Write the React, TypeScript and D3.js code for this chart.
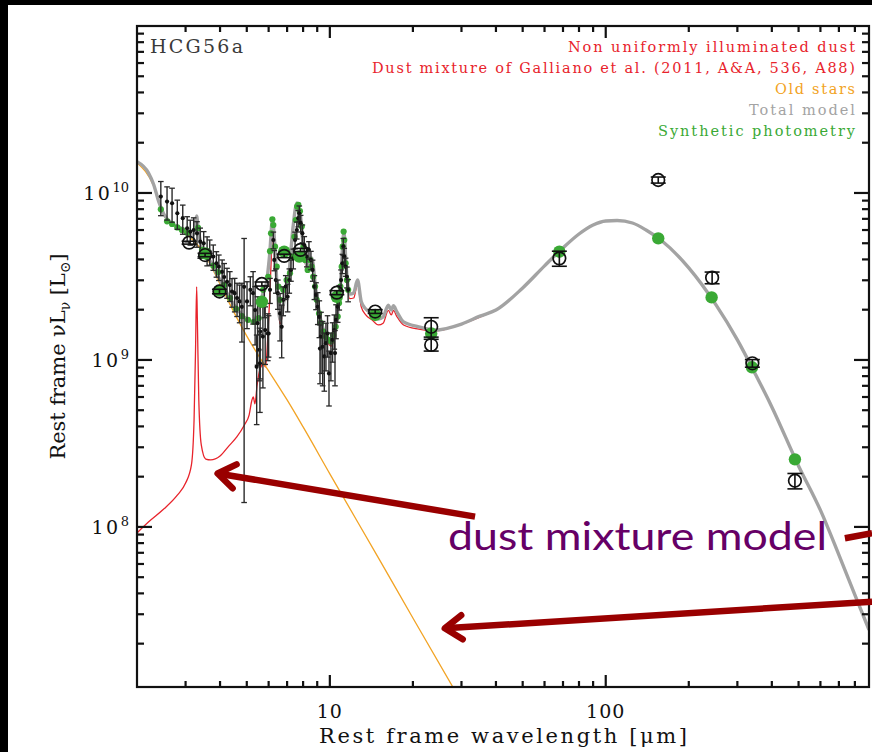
import React, { useEffect, useRef } from 'react';
import * as d3 from 'd3';

// ---------- data (luminosities in units of 1e9 Lsun, wavelengths in micron) ----------
const modelWave = [2.0, 2.2, 2.3, 2.4, 2.5, 2.7, 3.0, 3.2, 3.25, 3.29, 3.33, 3.4, 3.7, 4.0, 4.5, 5.0, 5.3, 5.5, 5.7, 5.9, 6.05, 6.2, 6.3, 6.45, 6.6, 6.9, 7.1, 7.35, 7.6, 7.8, 8.0, 8.3, 8.6, 8.9, 9.3, 9.7, 10.1, 10.4, 10.7, 10.95, 11.1, 11.25, 11.45, 11.8, 12.2, 12.6, 13.0, 13.5, 14.2, 15.0, 15.6, 16.3, 16.7, 17.0, 17.5, 18.5, 21, 24, 30, 35, 40, 50, 60, 70, 80, 90, 100, 110, 125, 140, 160, 200, 250, 300, 350, 400, 500, 600, 700, 800, 900];
const modelLum = [15.4, 13.2, 11.2, 8.83, 7.49, 6.52, 6.0, 5.6, 6.43, 7.28, 6.17, 5.09, 3.86, 3.01, 2.13, 1.76, 1.69, 1.99, 2.45, 2.93, 4.25, 6.99, 5.23, 2.63, 1.74, 2.55, 3.23, 6.17, 8.71, 7.69, 4.88, 3.66, 4.08, 2.63, 1.69, 1.39, 1.26, 1.45, 1.99, 2.93, 4.56, 5.84, 3.71, 2.48, 2.52, 3.01, 2.23, 2.02, 1.91, 1.76, 1.81, 2.13, 1.99, 2.11, 1.94, 1.69, 1.58, 1.51, 1.64, 1.83, 1.99, 2.70, 3.66, 4.69, 5.68, 6.43, 6.80, 6.84, 6.61, 6.00, 5.16, 3.56, 2.16, 1.32, 0.813, 0.523, 0.232, 0.126, 0.068, 0.0392, 0.0242];

const dustWave = [2.0, 2.2, 2.5, 2.8, 3.0, 3.15, 3.22, 3.26, 3.29, 3.31, 3.35, 3.42, 3.55, 3.7, 4.0, 4.3, 4.6, 4.9, 5.1, 5.22, 5.28, 5.35, 5.45, 5.6, 5.75, 5.85, 5.95, 6.05, 6.15, 6.2, 6.3, 6.45, 6.6, 6.9, 7.1, 7.35, 7.6, 7.8, 8.0, 8.3, 8.6, 8.9, 9.3, 9.7, 10.1, 10.4, 10.7, 10.95, 11.1, 11.25, 11.45, 11.8, 12.2, 12.6, 13.0, 13.5, 14.2, 15.0, 15.6, 16.3, 16.7, 17.0, 17.5, 18.5, 21, 24, 30, 40];
const dustLum = [0.092, 0.107, 0.128, 0.155, 0.183, 0.235, 0.437, 1.15, 2.74, 1.74, 0.576, 0.31, 0.255, 0.252, 0.266, 0.305, 0.346, 0.408, 0.469, 0.576, 0.60, 0.545, 0.708, 0.896, 0.946, 0.908, 1.32, 2.29, 4.56, 6.71, 4.95, 2.48, 1.64, 2.42, 3.10, 6.00, 8.48, 7.49, 4.69, 3.46, 3.92, 2.48, 1.60, 1.32, 1.21, 1.37, 1.89, 2.81, 4.37, 5.68, 3.56, 2.33, 2.35, 2.85, 2.08, 1.86, 1.74, 1.62, 1.66, 1.98, 1.86, 1.98, 1.82, 1.62, 1.53, 1.49, 1.64, 1.99];

const starWave = [2.0, 2.3, 2.5, 3.0, 3.5, 4.0, 4.5, 5.0, 5.5, 6.0, 7.0, 8.0, 10, 15, 20, 30];
const starLum = [15.2, 11.0, 7.4, 5.75, 4.35, 2.85, 1.92, 1.39, 1.07, 0.859, 0.576, 0.397, 0.208, 0.0652, 0.0285, 0.00895];

const specWave = [2.44, 2.57, 2.68, 2.80, 2.93, 3.04, 3.12, 3.21, 3.30, 3.39, 3.49, 3.59, 3.67, 3.78, 3.88, 3.96, 4.07, 4.14, 4.24, 4.34, 4.42, 4.52, 4.61, 4.71, 4.80, 4.89, 5.01, 5.15, 5.27, 5.36, 5.47, 5.59, 5.72, 5.83, 5.43, 5.56, 6.00,
  5.58, 5.79, 5.96, 6.07, 6.24, 6.29, 6.37, 6.48, 6.60, 6.69, 6.78, 6.92, 7.03, 7.13, 7.23, 7.37, 7.48, 7.59, 7.68, 7.75, 7.84, 7.95, 8.08, 8.25, 8.40, 8.54, 8.66, 8.79, 8.91, 9.04, 9.16, 9.21, 9.29, 9.42, 9.55, 9.68, 9.81, 9.93, 10.09, 10.23, 10.38, 10.44, 10.53, 10.68, 10.82, 10.98, 11.10, 11.19, 11.28, 11.41, 11.53, 11.65];
const specLum = [9.51, 8.88, 8.68, 7.56, 7.06, 6.15, 5.87, 6.00, 5.73, 5.11, 5.00, 4.56, 4.46, 4.16, 3.79, 3.62, 3.37, 3.14, 2.94, 2.81, 2.57, 2.51, 2.35, 2.24, 2.08, 2.74, 2.24, 2.63, 2.51, 1.99, 1.66, 1.48, 1.38, 1.51, 0.91, 1.15, 1.44,
  0.955, 2.29, 1.44, 2.63, 5.23, 3.97, 3.01, 2.51, 1.90, 1.58, 2.29, 2.75, 2.39, 3.01, 3.46, 4.06, 5.23, 6.00, 7.06, 7.56, 6.59, 5.73, 4.88, 4.16, 4.56, 3.97, 3.46, 2.75, 2.45, 2.08, 1.81, 1.17, 1.38, 1.20, 1.05, 1.26, 1.44, 0.83, 1.10, 1.32, 1.51, 1.10, 1.74, 2.08, 2.39, 3.01, 3.79, 4.79, 4.16, 3.62, 3.15, 2.63];
const specErr = [2.2, 2.0, 2.0, 1.5, 1.4, 1.06, 1.0, 1.1, 1.0, 1.05, 0.87, 0.9, 0.77, 0.72, 0.66, 0.63, 0.6, 0.64, 0.6, 0.57, 0.5, 0.57, 0.53, 0.57, 0.8, 2.6, 0.7, 0.52, 0.87, 0.76, 0.73, 0.71, 0.7, 0.57, 0.5, 0.4, 0.4,
  0.47, 0.5, 0.45, 0.45, 0.6, 0.55, 0.5, 0.5, 0.6, 0.55, 0.45, 0.45, 0.45, 0.5, 0.5, 0.55, 0.6, 0.7, 0.8, 0.8, 0.75, 0.7, 0.6, 0.55, 0.55, 0.5, 0.5, 0.45, 0.45, 0.45, 0.45, 0.45, 0.55, 0.5, 0.4, 0.4, 0.4, 0.3, 0.35, 0.35, 0.35, 0.4, 0.4, 0.4, 0.4, 0.45, 0.5, 0.55, 0.5, 0.45, 0.45, 0.4];

const synthWave = [2.44, 2.57, 2.68, 2.80, 2.91, 3.04, 3.33, 3.44, 3.59, 3.78, 3.94, 4.14, 4.35, 4.57, 4.80, 5.05, 5.31, 5.52, 5.73, 5.98, 6.07, 6.12, 6.19, 6.24, 6.33, 6.42, 6.51, 6.60, 6.78, 6.97, 7.17, 7.31, 7.44, 7.53, 7.61, 7.69, 7.79, 7.91, 8.02, 8.13, 8.31, 8.47, 8.59, 8.70, 8.84, 8.96, 9.14, 9.29, 9.47, 9.66, 9.87, 10.09, 10.29, 10.50, 10.68, 10.80, 10.92, 11.04, 11.13, 11.22, 11.28, 11.41, 11.53, 11.65];
const synthLum = [7.98, 6.76, 6.52, 6.22, 6.00, 5.77, 6.18, 4.56, 4.14, 3.67, 3.36, 2.81, 2.35, 2.02, 1.83, 1.74, 1.69, 1.78, 2.63, 3.15, 4.48, 5.73, 6.95, 6.43, 4.77, 3.62, 2.75, 2.29, 2.63, 3.01, 3.31, 4.16, 5.47, 6.89, 8.30, 8.48, 7.78, 6.29, 4.77, 3.97, 3.46, 3.97, 3.62, 3.15, 2.75, 2.29, 1.90, 1.66, 1.48, 1.38, 1.32, 1.29, 1.41, 1.58, 1.82, 2.19, 2.75, 3.62, 4.77, 5.87, 5.23, 3.79, 3.01, 2.63];

const bandSynthWave = [3.53, 3.98, 5.67, 6.83, 7.75, 10.6, 14.6, 23.3, 67.9, 155, 242, 339, 485];
const bandSynthLum = [4.35, 2.6, 2.23, 4.45, 4.16, 2.39, 1.86, 1.44, 4.45, 5.35, 2.37, 0.904, 0.254];

const photWave = [3.09, 3.53, 3.98, 5.67, 6.83, 7.83, 10.6, 14.6, 23.3, 23.3, 67.9, 155, 243, 340, 485];
const photLum = [5.04, 4.25, 2.57, 2.85, 4.2, 4.56, 2.53, 1.95, 1.58, 1.23, 4.06, 11.96, 3.11, 0.955, 0.189];
const photErr = [0.1, 0.1, 0.08, 0.08, 0.1, 0.1, 0.07, 0.05, 0.21, 0.1, 0.42, 0.5, 0.25, 0.05, 0.02];

const xMajorTicks = [10, 100];
const xMajorLabels = ['10', '100'];
const yMajorTicks = [0.1, 1, 10];
const yMajorExponents = ['8', '9', '10'];

const legendLabels = ['Non uniformly illuminated dust', 'Dust mixture of Galliano et al. (2011, A&A, 536, A88)', 'Old stars', 'Total model', 'Synthetic photometry'];
const legendColors = ['#e8232b', '#e8232b', '#f2a324', '#a3a3a3', '#3aa935'];
const legendWidths = [287, 483, 80, 106, 197];

const arrowTails: [number, number][] = [[33.6, 0.1153], [923, 0.0357]];
const arrowTips: [number, number][] = [[3.92, 0.209], [26.1, 0.0247]];
const arrowStub: [number, number][] = [[736, 0.0855], [923, 0.0917]];
const noteText = 'dust mixture model';
const noteAnchor: [number, number] = [26.8, 0.0728];

const SERIF = "'DejaVu Serif', serif";

export default function App() {
  const ref = useRef<SVGSVGElement>(null);
  useEffect(() => {
    const svg = d3.select(ref.current!);
    svg.selectAll('*').remove();
    const x = d3.scaleLog().domain([2, 900]).range([137, 869]);
    const y = d3.scaleLog().domain([0.011, 100]).range([687, 26]);
    const [xa, xb] = x.range();
    const [ya, yb] = y.range();

    svg.append('rect').attr('width', 872).attr('height', 752).attr('fill', '#fff');

    const defs = svg.append('defs');
    defs.append('clipPath').attr('id', 'plotclip').append('rect')
      .attr('x', xa).attr('y', yb).attr('width', xb - xa).attr('height', ya - yb);

    const pts = (w: number[], l: number[]) => w.map((v, i) => [v, l[i]] as [number, number]);
    const line = d3.line<[number, number]>().x(d => x(d[0])).y(d => y(d[1])).curve(d3.curveMonotoneX);

    const g = svg.append('g').attr('clip-path', 'url(#plotclip)');
    g.append('path').attr('d', line(pts(dustWave, dustLum))!).attr('fill', 'none')
      .attr('stroke', '#e8232b').attr('stroke-width', 1.3);
    g.append('path').attr('d', line(pts(starWave, starLum))!).attr('fill', 'none')
      .attr('stroke', '#f2a324').attr('stroke-width', 1.3);
    g.append('path').attr('d', line(pts(modelWave, modelLum))!).attr('fill', 'none')
      .attr('stroke', '#a3a3a3').attr('stroke-width', 3.4).attr('stroke-linejoin', 'round');

    // synthetic photometry on spectrum
    g.selectAll('circle.syn').data(pts(synthWave, synthLum)).enter().append('circle')
      .attr('cx', d => x(d[0])).attr('cy', d => y(d[1])).attr('r', 3.1).attr('fill', '#3aa935');

    // spectrum
    const spec = specWave.map((w, i) => ({ w, v: specLum[i], e: specErr[i] }));
    const sg = g.append('g');
    spec.forEach(d => {
      const yt = y(d.v + d.e);
      const ybt = y(Math.max(d.v - d.e, 0.011));
      const cx = x(d.w);
      sg.append('line').attr('x1', cx).attr('x2', cx).attr('y1', yt).attr('y2', ybt)
        .attr('stroke', '#2a2a2a').attr('stroke-width', 1.4);
      [yt, ybt].forEach(yy => sg.append('line').attr('x1', cx - 2.8).attr('x2', cx + 2.8)
        .attr('y1', yy).attr('y2', yy).attr('stroke', '#2a2a2a').attr('stroke-width', 1.3));
      sg.append('circle').attr('cx', cx).attr('cy', y(d.v)).attr('r', 2.1).attr('fill', '#111');
    });

    // band synthetic photometry
    g.selectAll('circle.band').data(pts(bandSynthWave, bandSynthLum)).enter().append('circle')
      .attr('cx', d => x(d[0])).attr('cy', d => y(d[1])).attr('r', 6.2).attr('fill', '#3aa935');

    // observed photometry
    photWave.forEach((w, i) => {
      const cx = x(w), cy = y(photLum[i]);
      const yt = y(photLum[i] + photErr[i]), ybt = y(photLum[i] - photErr[i]);
      g.append('line').attr('x1', cx).attr('x2', cx).attr('y1', yt).attr('y2', ybt)
        .attr('stroke', '#111').attr('stroke-width', 1.6);
      [yt, ybt].forEach(yy => g.append('line').attr('x1', cx - 7.5).attr('x2', cx + 7.5)
        .attr('y1', yy).attr('y2', yy).attr('stroke', '#111').attr('stroke-width', 1.6));
      g.append('circle').attr('cx', cx).attr('cy', cy).attr('r', 6.3).attr('fill', 'none')
        .attr('stroke', '#111').attr('stroke-width', 1.7);
    });

    // frame
    svg.append('rect').attr('x', xa).attr('y', yb).attr('width', xb - xa).attr('height', ya - yb)
      .attr('fill', 'none').attr('stroke', '#111').attr('stroke-width', 2.2);

    const ax = svg.append('g').attr('stroke', '#111').attr('stroke-width', 2.2);
    const yMinor: number[] = [];
    [0.01, 0.1, 1, 10].forEach(dec => { for (let k = 2; k <= 9; k++) { const v = k * dec; if (v > 0.011 && v < 100) yMinor.push(v); } });
    yMinor.forEach(v => {
      ax.append('line').attr('x1', xa).attr('x2', xa + 7).attr('y1', y(v)).attr('y2', y(v));
      ax.append('line').attr('x1', xb).attr('x2', xb - 7).attr('y1', y(v)).attr('y2', y(v));
    });
    yMajorTicks.forEach(v => {
      ax.append('line').attr('x1', xa).attr('x2', xa + 15).attr('y1', y(v)).attr('y2', y(v));
      ax.append('line').attr('x1', xb).attr('x2', xb - 15).attr('y1', y(v)).attr('y2', y(v));
    });
    const xMinor: number[] = [];
    [1, 10, 100].forEach(dec => { for (let k = 2; k <= 9; k++) { const v = k * dec; if (v > 2 && v < 900) xMinor.push(v); } });
    xMinor.forEach(v => {
      ax.append('line').attr('x1', x(v)).attr('x2', x(v)).attr('y1', ya).attr('y2', ya - 6);
      ax.append('line').attr('x1', x(v)).attr('x2', x(v)).attr('y1', yb).attr('y2', yb + 6);
    });
    xMajorTicks.forEach(v => {
      ax.append('line').attr('x1', x(v)).attr('x2', x(v)).attr('y1', ya).attr('y2', ya - 12);
      ax.append('line').attr('x1', x(v)).attr('x2', x(v)).attr('y1', yb).attr('y2', yb + 12);
    });

    // tick labels
    xMajorTicks.forEach((v, i) => {
      svg.append('text').attr('x', x(v)).attr('y', 718).attr('text-anchor', 'middle')
        .attr('font-family', SERIF).attr('font-size', 19).attr('letter-spacing', 1).attr('fill', '#111')
        .text(xMajorLabels[i]);
    });
    yMajorTicks.forEach((v, i) => {
      const t = svg.append('text').attr('x', 129).attr('y', y(v) + 7).attr('text-anchor', 'end')
        .attr('font-family', SERIF).attr('font-size', 19).attr('fill', '#111');
      t.append('tspan').attr('letter-spacing', 2.5).text('10');
      t.append('tspan').attr('dy', -8).attr('font-size', 13).text(yMajorExponents[i]);
    });

    // axis titles
    svg.append('text').attr('x', (xa + xb) / 2).attr('y', 743).attr('text-anchor', 'middle')
      .attr('font-family', SERIF).attr('font-size', 21).attr('fill', '#111')
      .attr('textLength', 368).attr('lengthAdjust', 'spacing')
      .text('Rest frame wavelength [\u03bcm]');
    const yl = svg.append('text').attr('transform', `translate(65,${(ya + yb) / 2}) rotate(-90)`)
      .attr('text-anchor', 'middle').attr('font-family', SERIF).attr('font-size', 21).attr('fill', '#111')
      .attr('textLength', 206).attr('lengthAdjust', 'spacing');
    yl.append('tspan').text('Rest frame \u03bdL');
    yl.append('tspan').attr('dy', 5).attr('font-size', 14).text('\u03bd');
    yl.append('tspan').attr('dy', -5).text(' [L');
    yl.append('tspan').attr('dy', 5).attr('font-size', 14).text('\u2299');
    yl.append('tspan').attr('dy', -5).text(']');

    // object name
    svg.append('text').attr('x', 150).attr('y', 53).attr('font-family', SERIF).attr('font-size', 19)
      .attr('fill', '#3a3a3a').attr('textLength', 93).attr('lengthAdjust', 'spacing').text('HCG56a');

    // legend
    legendLabels.forEach((lab, i) => {
      svg.append('text').attr('x', 855).attr('y', 52 + i * 21).attr('text-anchor', 'end')
        .attr('font-family', SERIF).attr('font-size', 14.5).attr('fill', legendColors[i])
        .attr('textLength', legendWidths[i]).attr('lengthAdjust', 'spacing').text(lab);
    });

    // annotations
    const red = '#990000';
    const an = svg.append('g').attr('stroke', red).attr('stroke-width', 6.5).attr('fill', 'none');
    arrowTips.forEach((tip, i) => {
      const tail = arrowTails[i];
      const tx = x(tip[0]), ty = y(tip[1]);
      const sx = x(tail[0]), sy = y(tail[1]);
      an.append('line').attr('x1', sx).attr('y1', sy).attr('x2', tx).attr('y2', ty);
      const len = Math.hypot(sx - tx, sy - ty);
      const ux = (sx - tx) / len, uy = (sy - ty) / len;
      const a = 35 * Math.PI / 180, hl = 21;
      const b1 = [tx + hl * (ux * Math.cos(a) - uy * Math.sin(a)), ty + hl * (ux * Math.sin(a) + uy * Math.cos(a))];
      const b2 = [tx + hl * (ux * Math.cos(a) + uy * Math.sin(a)), ty + hl * (-ux * Math.sin(a) + uy * Math.cos(a))];
      an.append('polyline').attr('points', `${b1[0]},${b1[1]} ${tx},${ty} ${b2[0]},${b2[1]}`)
        .attr('stroke-linecap', 'round').attr('stroke-linejoin', 'round');
    });
    an.append('line').attr('x1', x(arrowStub[0][0])).attr('y1', y(arrowStub[0][1]))
      .attr('x2', x(arrowStub[1][0])).attr('y2', y(arrowStub[1][1]));

    svg.append('text').attr('x', x(noteAnchor[0])).attr('y', y(noteAnchor[1]))
      .attr('font-family', "Lato, 'Open Sans', sans-serif").attr('font-size', 39).attr('fill', '#660066')
      .attr('textLength', 379).attr('lengthAdjust', 'spacingAndGlyphs').text(noteText);

    // slide borders
    svg.append('rect').attr('x', 0).attr('y', 0).attr('width', 872).attr('height', 5).attr('fill', '#000');
    svg.append('rect').attr('x', 0).attr('y', 0).attr('width', 8).attr('height', 752).attr('fill', '#000');
  }, []);
  return <svg ref={ref} width={872} height={752} style={{ position: 'absolute', left: 0, top: 0, display: 'block' }} />;
}
